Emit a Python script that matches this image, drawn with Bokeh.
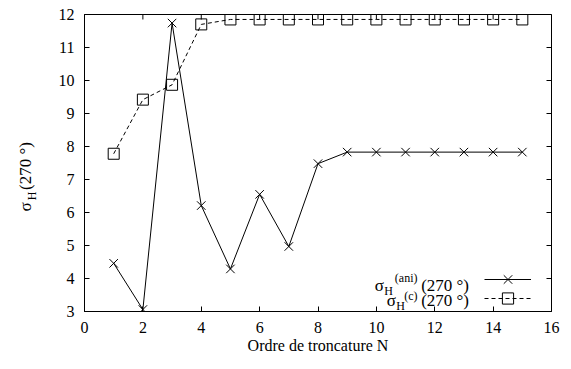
import math
from bokeh.plotting import figure
from bokeh.layouts import row
from bokeh.models import Label, Range1d, FixedTicker, Legend, LegendItem
from bokeh.embed import file_html
from bokeh.resources import INLINE

# ---- data ----
N = [1, 2, 3, 4, 5, 6, 7, 8, 9, 10, 11, 12, 13, 14, 15]
sigma_ani = [4.46, 3.06, 11.74, 6.21, 4.29, 6.55, 4.97, 7.48,
             7.83, 7.83, 7.83, 7.83, 7.83, 7.83, 7.83]
sigma_c = [7.78, 9.42, 9.87, 11.70, 11.85, 11.85, 11.85, 11.85,
           11.85, 11.85, 11.85, 11.85, 11.85, 11.85, 11.85]
x_ticks = [0, 2, 4, 6, 8, 10, 12, 14, 16]
y_ticks = [3, 4, 5, 6, 7, 8, 9, 10, 11, 12]
x_title = "Ordre de troncature N"

FONT = "Liberation Serif, Liberation Sans"
FS_TICK = "16px"
FS = "17px"
FS_SMALL = "12px"

LW = 40  # width of the y-title strip

p = figure(frame_width=467, frame_height=297,
           min_border_left=84 - LW, min_border_right=12,
           min_border_top=14, min_border_bottom=50,
           x_range=Range1d(x_ticks[0], x_ticks[-1]),
           y_range=Range1d(y_ticks[0], y_ticks[-1]),
           output_backend="svg", toolbar_location=None)
p.background_fill_color = "white"
p.border_fill_color = "white"
p.grid.visible = False
p.outline_line_color = "black"
p.outline_line_width = 1


def style_axis(ax, ticks):
    ax.ticker = FixedTicker(ticks=ticks)
    ax.major_tick_in = 5
    ax.major_tick_out = 0
    ax.minor_tick_line_color = None
    ax.axis_line_color = "black"
    ax.major_tick_line_color = "black"
    ax.major_label_text_font = FONT
    ax.major_label_text_font_size = FS_TICK
    ax.major_label_text_color = "black"
    ax.major_label_standoff = 10


style_axis(p.xaxis[0], x_ticks)
style_axis(p.yaxis[0], y_ticks)
p.xaxis[0].axis_label = x_title
p.xaxis[0].axis_label_text_font = FONT
p.xaxis[0].axis_label_text_font_size = FS_TICK
p.xaxis[0].axis_label_text_font_style = "normal"
p.xaxis[0].axis_label_text_color = "black"
p.xaxis[0].axis_label_standoff = 1

# mirrored inner ticks on top and right edges (clipped to the frame)
p.scatter(x_ticks, [y_ticks[-1]] * len(x_ticks), marker="dash", angle=math.pi / 2,
          size=10, line_color="black", line_width=1)
p.scatter([x_ticks[-1]] * len(y_ticks), y_ticks, marker="dash",
          size=10, line_color="black", line_width=1)

# ---- series ----
l1 = p.line(N, sigma_ani, line_color="black", line_width=1)
s1 = p.scatter(N, sigma_ani, marker="x", size=12, line_color="black", line_width=1)
l2 = p.line(N, sigma_c, line_color="black", line_width=1, line_dash="4 3")
s2 = p.scatter(N, sigma_c, marker="square", size=11, fill_color=None,
               line_color="black", line_width=1)

# ---- legend samples ----
for rends, gh, loc in (([l1, s1], 30, (399.5, 17)), ([l2, s2], 28, (399.5, -1))):
    lg = Legend(items=[LegendItem(label=" ", renderers=rends)], location=loc,
                glyph_width=47, glyph_height=gh, label_width=0, label_height=gh,
                label_standoff=0, spacing=0, padding=0, margin=0,
                border_line_color=None, background_fill_alpha=0,
                label_text_font_size="1px")
    p.add_layout(lg)


def lab(fig, txt, x, y, size=FS, angle=0.0, align="right", baseline="alphabetic"):
    fig.add_layout(Label(x=x, y=y, x_units="screen", y_units="screen", text=txt,
                         text_font=FONT, text_font_size=size, text_color="black",
                         text_align=align, text_baseline=baseline, angle=angle))


# legend texts (frame-relative screen units)
lab(p, "(270 °)", 384.5, 26)
lab(p, "(ani)", 333, 34, FS_SMALL)
lab(p, "H", 308.5, 21, FS_SMALL)
lab(p, "σ", 299.5, 26)

lab(p, "(270 °)", 384.5, 11)
lab(p, "(c)", 333, 16, FS_SMALL)
lab(p, "H", 320.5, 6, FS_SMALL)
lab(p, "σ", 311.5, 11)

# ---- y axis title strip ----
q = figure(frame_width=LW, frame_height=361, min_border=0,
           x_axis_type=None, y_axis_type=None,
           output_backend="svg", toolbar_location=None)
q.outline_line_color = None
q.grid.visible = False
q.background_fill_color = "white"
q.border_fill_color = "white"
rot = math.pi / 2
lab(q, "σ", 24.5, 168.5, FS, rot, "center", "middle")
lab(q, "H", 31.5, 179.5, FS_SMALL, rot, "center", "middle")
lab(q, "(270 °)", 24.5, 209.5, FS, rot, "center", "middle")

layout = row(q, p, spacing=0)
open("out.html", "w").write(file_html(layout, INLINE))
